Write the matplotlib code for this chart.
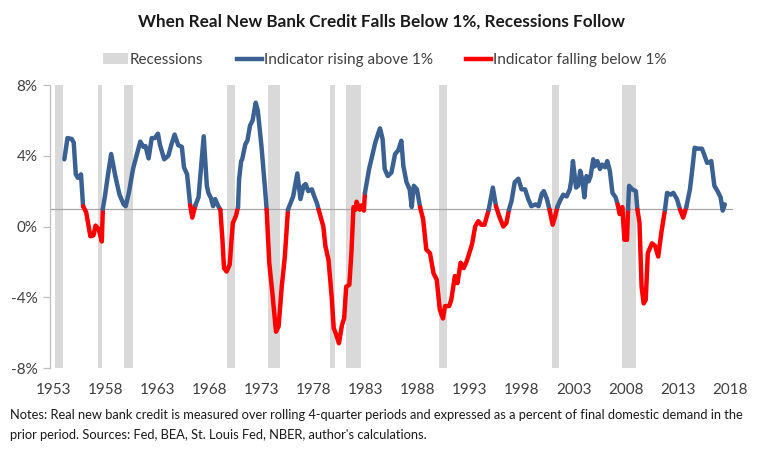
import matplotlib
matplotlib.use("Agg")
import matplotlib.pyplot as plt
from matplotlib.patches import Patch
from matplotlib.lines import Line2D
import numpy as np

plt.rcParams['font.family'] = ['Lato', 'DejaVu Sans']

# ---- data (x in axis-year units, value in %) ----
years = [
    1954.0, 1954.3, 1954.7, 1954.9, 1955.1, 1955.3, 1955.6, 1955.8, 1956.1, 1956.5,
    1956.8, 1957.0, 1957.3, 1957.6, 1957.7, 1957.9, 1958.2, 1958.5, 1958.9, 1959.3,
    1959.7, 1959.9, 1960.2, 1960.6, 1961.3, 1961.6, 1961.8, 1962.1, 1962.4, 1962.7,
    1963.0, 1963.2, 1963.6, 1964.0, 1964.3, 1964.6, 1964.95, 1965.3, 1965.5, 1965.8,
    1966.1, 1966.3, 1966.6, 1966.9, 1967.4, 1967.7, 1967.85, 1968.1, 1968.3, 1968.5,
    1968.8, 1969.0, 1969.2, 1969.35, 1969.6, 1969.9, 1970.1, 1970.2, 1970.5, 1970.7,
    1970.8, 1971.0, 1971.1, 1971.4, 1971.6, 1971.85, 1972.1, 1972.4, 1972.6, 1972.95,
    1973.3, 1973.45, 1973.7, 1974.0, 1974.35, 1974.6, 1974.9, 1975.2, 1975.5, 1976.0,
    1976.4, 1976.7, 1977.0, 1977.2, 1977.45, 1977.8, 1978.0, 1978.3, 1978.45, 1978.9,
    1979.1, 1979.4, 1979.7, 1979.9, 1980.1, 1980.4, 1980.7, 1980.9, 1981.1, 1981.4,
    1981.6, 1981.8, 1982.0, 1982.1, 1982.4, 1982.6, 1982.8, 1982.9, 1983.3, 1983.6,
    1983.9, 1984.2, 1984.35, 1984.6, 1984.8, 1985.1, 1985.45, 1985.8, 1986.1, 1986.4,
    1986.6, 1986.9, 1987.2, 1987.4, 1987.6, 1987.9, 1988.2, 1988.5, 1988.8, 1989.15,
    1989.5, 1989.8, 1990.1, 1990.4, 1990.6, 1991.0, 1991.2, 1991.55, 1991.8, 1992.1,
    1992.4, 1992.7, 1993.2, 1993.5, 1993.8, 1994.1, 1994.4, 1994.8, 1995.2, 1995.5,
    1995.8, 1996.2, 1996.5, 1996.75, 1997.0, 1997.3, 1997.65, 1997.96, 1998.3, 1998.6,
    1998.9, 1999.3, 1999.6, 1999.9, 2000.1, 2000.4, 2000.65, 2000.95, 2001.2, 2001.4,
    2001.65, 2001.97, 2002.3, 2002.6, 2002.75, 2002.9, 2003.2, 2003.4, 2003.6, 2003.8,
    2004.0, 2004.2, 2004.4, 2004.6, 2004.85, 2005.0, 2005.25, 2005.5, 2005.7, 2006.0,
    2006.2, 2006.45, 2006.7, 2007.0, 2007.2, 2007.4, 2007.65, 2007.85, 2008.1, 2008.2,
    2008.3, 2008.6, 2008.95, 2009.1, 2009.3, 2009.5, 2009.7, 2009.9, 2010.1, 2010.5,
    2010.8, 2011.1, 2011.4, 2011.75, 2011.95, 2012.3, 2012.55, 2012.9, 2013.2, 2013.5,
    2013.8, 2014.15, 2014.4, 2014.6, 2014.9, 2015.3, 2015.5, 2015.8, 2016.1, 2016.2,
    2016.5, 2016.8, 2017.1, 2017.3, 2017.5,
]
values = [
    3.8, 5.0, 4.95, 4.75, 2.95, 2.75, 2.95, 1.15, 0.8, -0.55,
    -0.5, 0.05, -0.15, -0.85, 1.0, 1.7, 2.95, 4.1, 2.85, 1.8,
    1.25, 1.15, 1.9, 3.25, 4.8, 4.5, 4.55, 3.85, 5.0, 5.0,
    5.25, 4.6, 3.8, 4.0, 4.65, 5.2, 4.6, 4.5, 3.35, 2.95,
    1.2, 0.5, 1.2, 1.65, 5.1, 2.3, 1.9, 1.6, 1.15, 1.55,
    1.15, 0.95, -0.75, -2.35, -2.55, -2.15, -0.55, 0.2, 0.6, 1.1,
    2.65, 3.7, 3.8, 4.65, 4.85, 5.7, 6.0, 7.0, 6.55, 4.55,
    2.1, 0.95, -2.05, -3.75, -5.95, -5.65, -3.4, -1.7, 0.95, 1.7,
    3.0, 1.55, 2.3, 2.4, 2.0, 2.1, 1.75, 1.3, 0.95, 0.0,
    -1.1, -1.9, -3.95, -5.75, -6.05, -6.6, -5.55, -5.2, -3.4, -3.3,
    -1.5, 1.1, 0.95, 1.4, 0.95, 1.2, 0.9, 1.9, 3.25, 4.0,
    4.75, 5.3, 5.55, 4.95, 3.25, 2.85, 3.05, 4.1, 4.3, 4.85,
    3.4, 2.5, 2.1, 1.1, 2.3, 2.1, 1.1, 0.4, -1.3, -1.5,
    -2.65, -3.0, -4.7, -5.2, -4.5, -4.5, -4.15, -2.8, -3.2, -2.05,
    -2.35, -1.95, -1.0, 0.0, 0.3, 0.1, 0.1, 0.95, 2.2, 1.15,
    0.6, 0.0, 0.2, 0.95, 1.45, 2.5, 2.7, 2.1, 2.1, 1.55,
    1.15, 1.25, 1.15, 1.85, 2.0, 1.55, 0.95, 0.1, 0.6, 1.1,
    1.45, 1.8, 1.7, 2.1, 2.65, 3.7, 2.2, 2.3, 3.15, 2.65,
    1.65, 2.85, 2.55, 2.85, 3.8, 3.4, 3.7, 3.25, 3.5, 3.35,
    3.7, 3.15, 1.9, 1.65, 1.25, 0.7, 1.1, -0.75, -0.75, 1.0,
    2.3, 2.1, 2.0, 0.95, 0.2, -3.4, -4.35, -4.15, -1.5, -0.95,
    -1.1, -1.7, -0.35, 0.95, 1.9, 1.8, 1.9, 1.55, 0.95, 0.5,
    1.1, 2.1, 3.35, 4.45, 4.4, 4.4, 4.1, 3.6, 3.65, 3.7,
    2.3, 2.0, 1.65, 0.9, 1.25,
]
# periods in which the indicator is "falling below 1%"
falling_periods = [
    (1955.8, 1957.7), (1966.1, 1966.6), (1969.0, 1970.7), (1973.45, 1975.5),
    (1978.45, 1982.9), (1988.2, 1994.8), (1995.5, 1996.75), (2000.65, 2001.4),
    (2007.2, 2008.2), (2009.1, 2011.75), (2013.2, 2013.8),
]
recessions = [
    (1953.1, 1953.9), (1957.2, 1957.6), (1959.7, 1960.6), (1969.6, 1970.4),
    (1973.6, 1974.7), (1979.5, 1980.0), (1981.1, 1982.5), (1990.05, 1990.75),
    (2000.85, 2001.6), (2007.65, 2009.0),
]
tick_years = [1953, 1958, 1963, 1968, 1973, 1978, 1983, 1988, 1993, 1998, 2003, 2008, 2013, 2018]
y_ticks = [-8, -4, 0, 4, 8]
threshold = 1.0

BLUE = '#3A6192'
RED = '#FF0000'
GRAY = '#D9D9D9'
AXGRAY = '#BFBFBF'

W, H = 762, 453
fig = plt.figure(figsize=(W / 100, H / 100), dpi=100)
ax = fig.add_axes([50 / W, (H - 368) / H, (733 - 50) / W, (368 - 85) / H])

for a, b in recessions:
    ax.axvspan(a, b, color=GRAY, lw=0, zorder=0)

ax.axhline(threshold, color='#A6A6A6', lw=0.9, zorder=1)

# colour each segment by whether it lies in a falling period
x = np.asarray(years)
y = np.asarray(values)
mid = (x[:-1] + x[1:]) / 2
is_red = np.array([any(a <= m <= b for a, b in falling_periods) for m in mid])
start = 0
for i in range(1, len(is_red) + 1):
    if i == len(is_red) or is_red[i] != is_red[start]:
        col = RED if is_red[start] else BLUE
        ax.plot(x[start:i + 1], y[start:i + 1], color=col, lw=3.2,
                solid_joinstyle='round', solid_capstyle='round', zorder=3)
        start = i

ax.set_xlim(1952.62, 2018.29)
ax.set_ylim(-8, 8)
ax.set_yticks(y_ticks)
ax.set_yticklabels([f'{v}%' for v in y_ticks])
ax.set_xticks(tick_years)
ax.set_xticklabels([str(t) for t in tick_years])

for s in ['top', 'right', 'bottom']:
    ax.spines[s].set_visible(False)
ax.spines['left'].set_color(AXGRAY)
ax.spines['left'].set_linewidth(0.9)
ax.tick_params(axis='y', direction='out', length=5, width=0.9, color=AXGRAY,
               labelsize=11, labelcolor='#404040', pad=4)
ax.tick_params(axis='x', length=0, labelsize=11, labelcolor='#404040', pad=11)

fig.text(0.5, 1 - 22 / H, 'When Real New Bank Credit Falls Below 1%, Recessions Follow',
         ha='center', va='center', fontsize=12.3, fontweight='bold', color='#1a1a1a')

handles = [Patch(facecolor=GRAY, edgecolor='none', label='Recessions'),
           Line2D([], [], color=BLUE, lw=3.2, label='Indicator rising above 1%'),
           Line2D([], [], color=RED, lw=3.2, label='Indicator falling below 1%')]
fig.legend(handles=handles, loc='center', bbox_to_anchor=(385 / W, 1 - 60 / H), ncol=3,
           frameon=False, fontsize=11, handlelength=1.6, handletextpad=0.15,
           columnspacing=2.2, labelcolor='#404040')

fig.text(10 / W, 1 - 415 / H,
         'Notes: Real new bank credit is measured over rolling 4-quarter periods and expressed as a percent of final domestic demand in the',
         ha='left', va='center', fontsize=9.3, color='#1a1a1a')
fig.text(10 / W, 1 - 435 / H,
         "prior period. Sources: Fed, BEA, St. Louis Fed, NBER, author's calculations.",
         ha='left', va='center', fontsize=9.3, color='#1a1a1a')

fig.savefig('out.png', dpi=100)
